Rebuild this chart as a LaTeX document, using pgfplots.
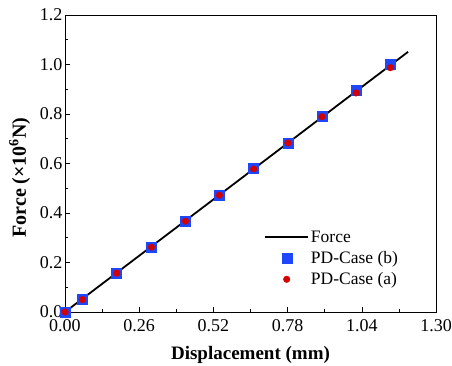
\documentclass[border=0pt]{standalone}
\usepackage{pgfplots}
\pgfplotsset{compat=1.18}
\usepackage{fontspec}
\setmainfont{Liberation Serif}
\definecolor{myblue}{RGB}{30,70,250}
\definecolor{myred}{RGB}{210,0,0}
\begin{document}
\begin{tikzpicture}
\useasboundingbox (-65pt,-54pt) rectangle (387pt,312pt);
\begin{axis}[
  at={(0pt,0pt)}, anchor=south west,
  scale only axis,
  width=371pt, height=297pt,
  xmin=0, xmax=1.30, ymin=0, ymax=1.2,
  xtick={0,0.26,0.52,0.78,1.04,1.30},
  xticklabels={0.00,0.26,0.52,0.78,1.04,1.30},
  ytick={0,0.2,0.4,0.6,0.8,1.0,1.2},
  yticklabels={0.0,0.2,0.4,0.6,0.8,1.0,1.2},
  minor tick num=1,
  tick align=inside,
  xtick pos=bottom, ytick pos=left,
  major tick length=5pt, minor tick length=3pt,
  tick style={black, line width=0.6pt},
  axis line style={line width=0.8pt},
  ticklabel style={font=\fontsize{18}{20}\selectfont},
  yticklabel style={xshift=1pt},
  xticklabel style={yshift=-4pt},
  /pgf/number format/assume math mode=true,
  xlabel={\textbf{Displacement (mm)}},
  ylabel={\textbf{Force} (×10\textsuperscript{6}N)},
  label style={font=\fontsize{19}{21}\selectfont},
  xlabel style={yshift=-8pt},
  ylabel style={font=\fontsize{20}{22}\selectfont\bfseries, xshift=-14pt, yshift=3pt},
  legend style={draw=none, fill=none, at={(0.529,0.073)}, anchor=south west,
    font=\fontsize{17.5}{19}\selectfont, row sep=3.5pt,
    legend cell align=left},
  legend image code/.code={\draw[mark repeat=2,mark phase=2] plot coordinates {(0cm,0cm)(0.75cm,0cm)(1.5cm,0cm)};},
]
\addplot[black, line width=1.8pt, no marks] coordinates {(0,0) (1.202,1.051)};
\addlegendentry{Force}
\addplot[only marks, mark=square*, mark size=5pt, color=myblue] coordinates {
(0.000,0.000) (0.061,0.051) (0.181,0.158) (0.303,0.263) (0.422,0.368)
(0.541,0.473) (0.661,0.579) (0.781,0.684) (0.900,0.791) (1.020,0.896) (1.140,1.001)};
\addlegendentry{PD-Case (b)}
\addplot[only marks, mark=*, mark size=3.3pt, color=myred] coordinates {
(0.000,0.000) (0.061,0.050) (0.181,0.157) (0.303,0.262) (0.422,0.367)
(0.541,0.472) (0.661,0.578) (0.781,0.683) (0.900,0.789) (1.020,0.885) (1.140,0.987)};
\addlegendentry{PD-Case (a)}
\end{axis}
\end{tikzpicture}
\end{document}
